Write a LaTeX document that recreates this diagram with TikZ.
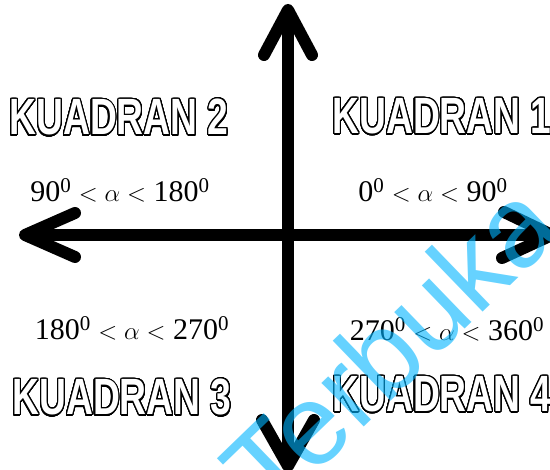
\documentclass[tikz,border=0pt]{standalone}
\usepackage{fontspec}
\usepackage{contour}
\usepackage{xcolor}
\usetikzlibrary{calc}
\setmainfont{Liberation Serif}
\newfontfamily\kuadfont{Liberation Sans}
\newfontfamily\markfont{Liberation Sans}
\definecolor{markcyan}{RGB}{0,180,255}
\contourlength{1.5pt}
\contournumber{32}

\begin{document}
\begin{tikzpicture}[x=1pt, y=1pt,
    axis/.style={line width=12pt},
    barb/.style={line width=12pt, line cap=round, line join=round},
    kuad/.style={inner sep=0pt, xscale=0.73, text=white,
        font=\kuadfont\bfseries\fontsize{51}{60}\selectfont},
    sudut/.style={inner sep=0pt, font=\fontsize{30}{36}\selectfont},
    wmark/.style={text=markcyan, opacity=0.6, inner sep=0pt,
        font=\markfont\fontsize{115}{130}\selectfont}]
    \useasboundingbox (0,0) rectangle (550,470);

    % 1. Sumbu koordinat
    \coordinate (O) at (288,235);
    \coordinate (atas) at (288,460);
    \coordinate (bawah) at (288,4);
    \coordinate (kiri) at (25,235);
    \coordinate (kanan) at (552,235);
    \draw[axis] (kiri) -- (kanan);
    \draw[axis] (bawah) -- (atas);
    \draw[barb] ($(atas)+(-24,-45)$) -- (atas) -- ($(atas)+(24,-45)$);
    \draw[barb] ($(bawah)+(-26,46)$) -- (bawah) -- ($(bawah)+(26,46)$);
    \draw[barb] ($(kiri)+(50,22)$) -- (kiri) -- ($(kiri)+(50,-22)$);
    \draw[barb] ($(kanan)+(-48,23)$) -- (kanan) -- ($(kanan)+(-50,-23)$);

    % 2. Nama kuadran
    \node[kuad] (k1) at (442,353) {\contour{black}{KUADRAN 1}};
    \node[kuad] (k2) at (119,352) {\contour{black}{KUADRAN 2}};
    \node[kuad] (k3) at (122,72) {\contour{black}{KUADRAN 3}};
    \node[kuad] (k4) at (442,75) {\contour{black}{KUADRAN 4}};

    % 3. Batas sudut
    \node[sudut] (s1) at (433,280) {0\textsuperscript{0} $<\alpha<$ 90\textsuperscript{0}};
    \node[sudut] (s2) at (120,280) {90\textsuperscript{0} $<\alpha<$ 180\textsuperscript{0}};
    \node[sudut] (s3) at (132,142) {180\textsuperscript{0} $<\alpha<$ 270\textsuperscript{0}};
    \node[sudut] (s4) at (447,141) {270\textsuperscript{0} $<\alpha<$ 360\textsuperscript{0}};

    % 4. Tanda air
    \node[wmark, rotate=44, anchor=base] (wm) at (418,95) {Terbuka};
\end{tikzpicture}
\end{document}
